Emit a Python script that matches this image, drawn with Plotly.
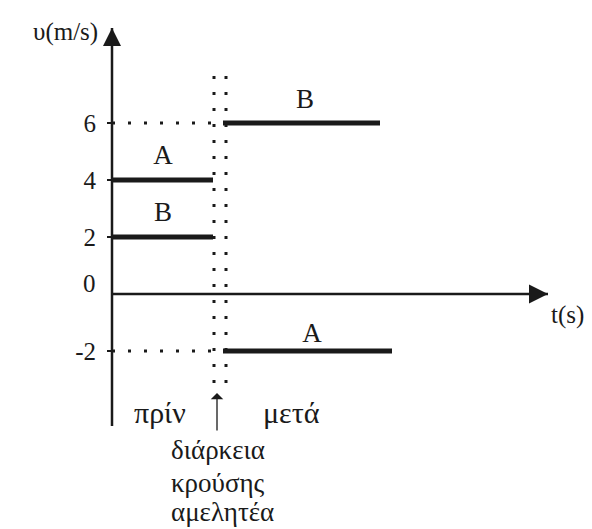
import plotly.graph_objects as go

# velocity (m/s) of A and B before and after the collision
seg_names = ["A", "B", "B", "A"]
seg_t0 = [0.0, 0.0, 5.55, 5.55]
seg_t1 = [5.05, 5.05, 13.4, 14.0]
seg_v = [4, 2, 6, -2]
label_t = [2.55, 2.55, 9.65, 10.0]
label_v = [4.8, 2.8, 6.75, -1.45]

tick_vals = [6, 4, 2, -2]
tick_text = ["6", "4", "2", "-2"]

# collision instant (dotted columns) and axis extents
t_coll = [5.1, 5.7]
coll_v = [7.65, -3.12]
guide_v = [6, -2]
v_axis = [-4.63, 9.33]
t_axis = [0, 21.8]

x_range = [-5.6, 24.0]
y_range = [-8.245, 10.316]

FONT = "Liberation Serif"
INK = "#1a1a1a"
DOTS = "3px,13px"

fig = go.Figure()

# dotted guides
for tc in t_coll:
    fig.add_trace(go.Scatter(x=[tc, tc], y=coll_v, mode="lines",
                             line=dict(color=INK, width=3, dash=DOTS)))
for gv in guide_v:
    fig.add_trace(go.Scatter(x=[0, t_coll[0]], y=[gv, gv], mode="lines",
                             line=dict(color=INK, width=3, dash=DOTS)))

# axes drawn as lines with arrow tips
fig.add_trace(go.Scatter(x=[0, 0], y=v_axis, mode="lines",
                         line=dict(color=INK, width=2.5)))
fig.add_trace(go.Scatter(x=t_axis, y=[0, 0], mode="lines",
                         line=dict(color=INK, width=2.5)))
fig.add_trace(go.Scatter(x=[0], y=[v_axis[1]], mode="markers",
                         marker=dict(symbol="arrow-up", size=18, color=INK)))
fig.add_trace(go.Scatter(x=[t_axis[1]], y=[0], mode="markers",
                         marker=dict(symbol="arrow-right", size=19, color=INK)))

# velocity segments
for t0, t1, v in zip(seg_t0, seg_t1, seg_v):
    fig.add_trace(go.Scatter(x=[t0, t1], y=[v, v], mode="lines",
                             line=dict(color=INK, width=5)))

fig.add_trace(go.Scatter(x=label_t, y=label_v, mode="text", text=seg_names,
                         textfont=dict(family=FONT, size=27, color=INK)))

notes = [
    dict(x=0, y=v_axis[1], text="υ(m/s)", xanchor="right", yanchor="middle",
         xshift=-13, yshift=-4, size=25),
    dict(x=0, y=0, text="0", xanchor="right", yanchor="middle",
         xshift=-15, yshift=11, size=25),
    dict(x=t_axis[1], y=0, text="t(s)", xanchor="left", yanchor="middle",
         xshift=2, yshift=-21, size=25),
    dict(x=2.4, y=-4.14, text="πρίν", xanchor="center", yanchor="middle",
         size=30),
    dict(x=8.95, y=-4.14, text="μετά", xanchor="center", yanchor="middle",
         size=30),
    dict(x=2.9, y=-5.47, text="διάρκεια", xanchor="left", yanchor="middle",
         size=27),
    dict(x=2.9, y=-6.63, text="κρούσης", xanchor="left", yanchor="middle",
         size=27),
    dict(x=2.9, y=-7.65, text="αμελητέα", xanchor="left", yanchor="middle",
         size=27),
]
for n in notes:
    size = n.pop("size")
    fig.add_annotation(xref="x", yref="y", showarrow=False, borderpad=0,
                       font=dict(family=FONT, size=size, color=INK), **n)

# thin arrow under the collision
fig.add_annotation(xref="x", yref="y", axref="x", ayref="y",
                   x=5.25, y=-3.47, ax=5.25, ay=-4.84, text="",
                   showarrow=True, arrowhead=1, arrowsize=1.6,
                   arrowwidth=1.3, arrowcolor=INK)

fig.update_layout(
    width=592, height=529,
    margin=dict(l=0, r=0, t=0, b=0),
    template="none",
    paper_bgcolor="white", plot_bgcolor="white",
    showlegend=False,
    xaxis=dict(range=x_range, visible=False, fixedrange=True),
    yaxis=dict(range=y_range, anchor="free",
               position=(0 - x_range[0]) / (x_range[1] - x_range[0]),
               tickvals=tick_vals, ticktext=tick_text,
               ticks="outside", ticklen=5, tickwidth=1.5, tickcolor=INK,
               ticklabelstandoff=6,
               tickfont=dict(family=FONT, size=25, color=INK),
               showline=False, showgrid=False, zeroline=False,
               automargin=False, fixedrange=True),
)

# page body has a default margin; drop it so the figure fills the window
fig.write_html("out.html", config={"displayModeBar": False},
               post_script="document.body.style.margin='0px';")
